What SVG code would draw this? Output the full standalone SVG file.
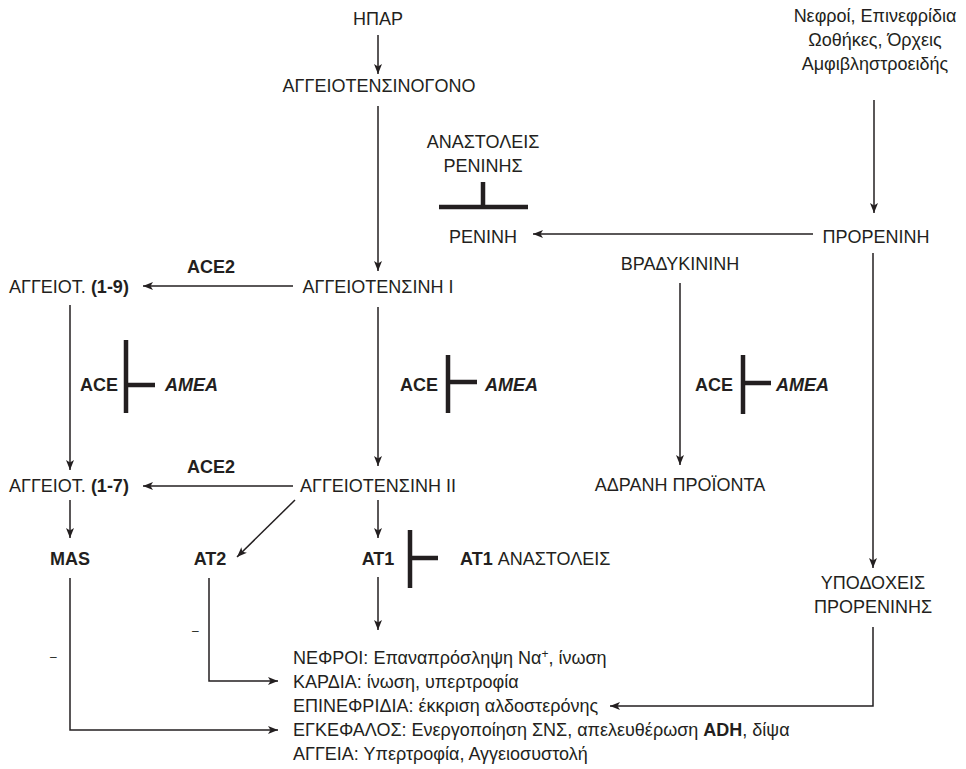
<svg xmlns="http://www.w3.org/2000/svg" width="966" height="769" viewBox="0 0 966 769">
<style>
text{font-family:"Liberation Sans",Arial,sans-serif;font-size:18px;fill:#231f20}
.c{text-anchor:middle}
.b{font-weight:bold}
.bi{font-weight:bold;font-style:italic}
.m{font-size:12px}
.ln{fill:none;stroke:#231f20;stroke-width:1.5}
.ar{marker-end:url(#ah)}
.inh{fill:none;stroke:#231f20;stroke-width:4.5}
</style>
<defs>
<marker id="ah" markerUnits="userSpaceOnUse" viewBox="0 0 10 10" refX="10" refY="5" markerWidth="10" markerHeight="10" orient="auto">
<path d="M0,1 L10,5 L0,9 L2.5,5 z" fill="#231f20"/>
</marker>
</defs>
<rect width="966" height="769" fill="#ffffff"/>

<g id="connectors">
<path class="ln ar" d="M378,35 V74"/>
<path class="ln ar" d="M378,106 V271"/>
<path class="ln ar" d="M293,286 H143"/>
<path class="ln ar" d="M378,307 V466"/>
<path class="ln ar" d="M70,305 V470"/>
<path class="ln ar" d="M293,486 H143"/>
<path class="ln ar" d="M70,500 V538"/>
<path class="ln ar" d="M295,500 L237,557"/>
<path class="ln ar" d="M378,500 V538"/>
<path class="ln ar" d="M378,577 V630"/>
<path class="ln ar" d="M70,578 V730 H278"/>
<path class="ln ar" d="M209,578 V681 H278"/>
<path class="ln ar" d="M874,100 V213"/>
<path class="ln ar" d="M813,234 H533"/>
<path class="ln ar" d="M873,253 V568"/>
<path class="ln ar" d="M873,627 V706 H610"/>
<path class="ln ar" d="M680,283 V465"/>
</g>

<g id="inhibitions">
<path class="inh" d="M483,182 V207 M439,207 H528"/>
<path class="inh" d="M126,340 V413 M126,385 H155"/>
<path class="inh" d="M448,355 V413 M448,382 H477"/>
<path class="inh" d="M743,355 V414 M743,383 H771"/>
<path class="inh" d="M410,530 V588 M410,558 H438"/>
</g>

<g id="liver"><text class="c" x="378" y="25">ΗΠΑΡ</text></g>
<g id="angiotensinogen"><text class="c" x="379" y="92">ΑΓΓΕΙΟΤΕΝΣΙΝΟΓΟΝΟ</text></g>
<g id="sources">
<text class="c" x="875" y="22">Νεφροί, Επινεφρίδια</text>
<text class="c" x="875" y="46">Ωοθήκες, Όρχεις</text>
<text class="c" x="875" y="70">Αμφιβληστροειδής</text>
</g>
<g id="renin-inhibitors">
<text class="c" x="483" y="148">ΑΝΑΣΤΟΛΕΙΣ</text>
<text class="c" x="483" y="172">ΡΕΝΙΝΗΣ</text>
</g>
<g id="renin"><text class="c" x="483" y="243">ΡΕΝΙΝΗ</text></g>
<g id="prorenin"><text class="c" x="876" y="243">ΠΡΟΡΕΝΙΝΗ</text></g>
<g id="bradykinin"><text class="c" x="680" y="270">ΒΡΑΔΥΚΙΝΙΝΗ</text></g>
<g id="ang1"><text class="c" x="378" y="293">ΑΓΓΕΙΟΤΕΝΣΙΝΗ Ι</text></g>
<g id="ang1-9"><text x="9" y="293">ΑΓΓΕΙΟΤ. <tspan class="b">(1-9)</tspan></text></g>
<g id="ace2-top"><text class="c b" x="211" y="273">ACE2</text></g>
<g id="ace-left"><text class="b" x="80" y="391">ACE</text><text class="bi" x="165" y="391">AMEA</text></g>
<g id="ace-mid"><text class="b" x="400" y="391">ACE</text><text class="bi" x="485" y="391">AMEA</text></g>
<g id="ace-right"><text class="b" x="695" y="391">ACE</text><text class="bi" x="776" y="391">AMEA</text></g>
<g id="ace2-bottom"><text class="c b" x="211" y="473">ACE2</text></g>
<g id="ang1-7"><text x="9" y="492">ΑΓΓΕΙΟΤ. <tspan class="b">(1-7)</tspan></text></g>
<g id="ang2"><text class="c" x="378" y="492">ΑΓΓΕΙΟΤΕΝΣΙΝΗ ΙΙ</text></g>
<g id="inactive"><text class="c" x="680" y="491">ΑΔΡΑΝΗ ΠΡΟΪΟΝΤΑ</text></g>
<g id="mas"><text class="c b" x="70" y="565">MAS</text></g>
<g id="at2"><text class="c b" x="210" y="565">AT2</text></g>
<g id="at1"><text class="c b" x="378" y="565">AT1</text></g>
<g id="at1-inhibitors"><text x="460" y="565"><tspan class="b">AT1</tspan> ΑΝΑΣΤΟΛΕΙΣ</text></g>
<g id="prorenin-receptors">
<text class="c" x="873" y="589">ΥΠΟΔΟΧΕΙΣ</text>
<text class="c" x="873" y="613">ΠΡΟΡΕΝΙΝΗΣ</text>
</g>
<g id="minus-signs">
<text class="m" x="192" y="635">–</text>
<text class="m" x="50" y="661">–</text>
</g>
<g id="effects">
<text x="293" y="664">ΝΕΦΡΟΙ: Επαναπρόσληψη Να<tspan class="m" dy="-6">+</tspan><tspan dy="6">, ίνωση</tspan></text>
<text x="293" y="688">ΚΑΡΔΙΑ: ίνωση, υπερτροφία</text>
<text x="293" y="712">ΕΠΙΝΕΦΡΙΔΙΑ: έκκριση αλδοστερόνης</text>
<text x="293" y="736">ΕΓΚΕΦΑΛΟΣ: Ενεργοποίηση ΣΝΣ, απελευθέρωση <tspan class="b">ADH</tspan>, δίψα</text>
<text x="293" y="760">ΑΓΓΕΙΑ: Υπερτροφία, Αγγειοσυστολή</text>
</g>
</svg>
